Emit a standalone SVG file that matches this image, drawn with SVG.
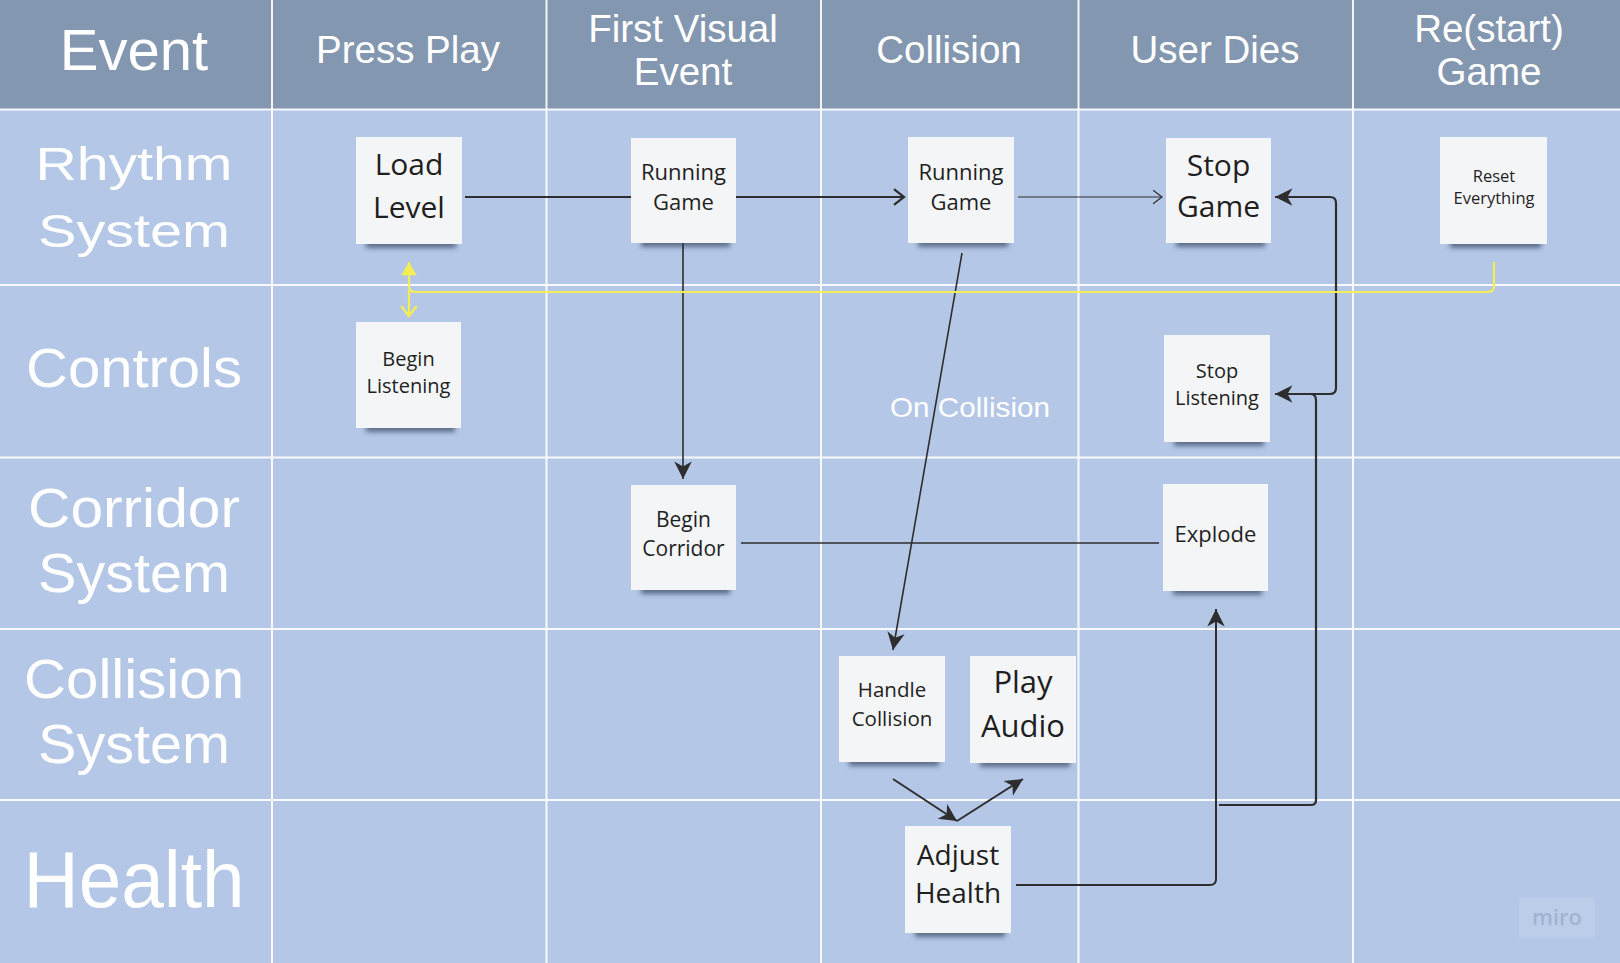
<svg xmlns="http://www.w3.org/2000/svg" width="1620" height="963" viewBox="0 0 1620 963">
<defs>
<style>
.hdr{font-family:"Liberation Sans",Arial,sans-serif;fill:#ffffff;text-anchor:middle}
.row{font-family:"Liberation Sans",Arial,sans-serif;fill:#ffffff;text-anchor:middle}
.nt{font-family:"Open Sans","Noto Sans",sans-serif;fill:#1f1f1f;text-anchor:middle}
.note{fill:#f4f5f7}
.shadow{fill:#24324a;opacity:0.6;filter:url(#blur)}
.grid{stroke:#ffffff;stroke-width:2;opacity:0.9}
.con{fill:none;stroke:#2e2e2e;stroke-linecap:butt}
.yel{fill:none;stroke:#f3ee55;stroke-width:2.2}
</style>
<filter id="blur" x="-20%" y="-100%" width="140%" height="300%"><feGaussianBlur stdDeviation="2.5"/></filter>
<marker id="fill" markerUnits="userSpaceOnUse" markerWidth="20" markerHeight="20" viewBox="-15 -8 16 16" refX="0" refY="0" orient="auto">
<path d="M0,0 L-14,-7 L-10,0 L-14,7 Z" fill="#2e2e2e"/>
</marker>
<marker id="chev" markerUnits="userSpaceOnUse" markerWidth="20" markerHeight="20" viewBox="-14 -9 16 18" refX="0" refY="0" orient="auto">
<path d="M-9,-7 L0,0 L-9,7" fill="none" stroke="#2e2e2e" stroke-width="2"/>
</marker>
<marker id="chevthin" markerUnits="userSpaceOnUse" markerWidth="20" markerHeight="20" viewBox="-14 -9 16 18" refX="0" refY="0" orient="auto">
<path d="M-8,-6 L0,0 L-8,6" fill="none" stroke="#2e2e2e" stroke-width="1.1"/>
</marker>
<marker id="yfill" markerUnits="userSpaceOnUse" markerWidth="20" markerHeight="20" viewBox="-15 -9 16 18" refX="0" refY="0" orient="auto">
<path d="M0,0 L-12,-7 L-12,7 Z" fill="#f3ee55"/>
</marker>
<marker id="ychev" markerUnits="userSpaceOnUse" markerWidth="20" markerHeight="20" viewBox="-14 -9 16 18" refX="0" refY="0" orient="auto">
<path d="M-9,-7 L0,0 L-9,7" fill="none" stroke="#f3ee55" stroke-width="2.2"/>
</marker>
</defs>

<g id="background">
<rect x="0" y="0" width="1620" height="963" fill="#b4c7e7"/>
<rect x="0" y="0" width="1620" height="109.5" fill="#8497b0"/>
</g>

<g id="grid">
<line class="grid" x1="272" y1="0" x2="272" y2="963"/>
<line class="grid" x1="546.5" y1="0" x2="546.5" y2="963"/>
<line class="grid" x1="821" y1="0" x2="821" y2="963"/>
<line class="grid" x1="1078.5" y1="0" x2="1078.5" y2="963"/>
<line class="grid" x1="1353" y1="0" x2="1353" y2="963"/>
<line class="grid" x1="0" y1="109.5" x2="1620" y2="109.5"/>
<line class="grid" x1="0" y1="285" x2="1620" y2="285"/>
<line class="grid" x1="0" y1="457.5" x2="1620" y2="457.5"/>
<line class="grid" x1="0" y1="629" x2="1620" y2="629"/>
<line class="grid" x1="0" y1="800" x2="1620" y2="800"/>
</g>

<g id="headers">
<text class="hdr" x="134" y="70" font-size="58">Event</text>
<text class="hdr" x="408" y="63" font-size="38.5">Press Play</text>
<text class="hdr" x="683" y="42" font-size="38.5">First Visual</text>
<text class="hdr" x="683" y="85" font-size="38.5">Event</text>
<text class="hdr" x="949" y="63" font-size="38.5">Collision</text>
<text class="hdr" x="1215" y="63" font-size="38.5">User Dies</text>
<text class="hdr" x="1489" y="42" font-size="38.5">Re(start)</text>
<text class="hdr" x="1489" y="85" font-size="38.5">Game</text>
</g>

<g id="row-labels">
<text class="row" x="134" y="180" font-size="47" textLength="197" lengthAdjust="spacingAndGlyphs">Rhythm</text>
<text class="row" x="134" y="247" font-size="47" textLength="192" lengthAdjust="spacingAndGlyphs">System</text>
<text class="row" x="134" y="387" font-size="56" textLength="216" lengthAdjust="spacingAndGlyphs">Controls</text>
<text class="row" x="134" y="527" font-size="56" textLength="212" lengthAdjust="spacingAndGlyphs">Corridor</text>
<text class="row" x="134" y="592" font-size="56" textLength="192" lengthAdjust="spacingAndGlyphs">System</text>
<text class="row" x="134" y="698" font-size="56" textLength="220" lengthAdjust="spacingAndGlyphs">Collision</text>
<text class="row" x="134" y="763" font-size="56" textLength="192" lengthAdjust="spacingAndGlyphs">System</text>
<text class="row" x="134" y="907" font-size="79" textLength="221" lengthAdjust="spacingAndGlyphs">Health</text>
</g>

<g id="connectors">
<path class="con" d="M465,197 H904" stroke-width="2" marker-end="url(#chev)"/>
<path class="con" d="M1018,197 H1162" stroke-width="1" marker-end="url(#chevthin)"/>
<path class="con" d="M683,243 V479" stroke-width="1.6" marker-end="url(#fill)"/>
<path class="con" d="M962,253 L893,650" stroke-width="1.6" marker-end="url(#fill)"/>
<path class="con" d="M741,543 H1159" stroke="#3c3c3c" stroke-width="1.3"/>
<path class="con" d="M893,779 L957,821" stroke-width="2" marker-end="url(#fill)"/>
<path class="con" d="M957,821 L1023,779" stroke-width="2" marker-end="url(#fill)"/>
<path class="con" d="M1016,885 H1210 Q1216,885 1216,879 V609" stroke-width="2" marker-end="url(#fill)"/>
<path class="con" d="M1219,805 H1311 Q1316,805 1316,800 V400 Q1316,394 1310,394 H1275" stroke-width="2.2" marker-end="url(#fill)"/>
<path class="con" d="M1275,394 H1330 Q1336,394 1336,388 V203 Q1336,197 1330,197 H1275" stroke-width="2.2" marker-end="url(#fill)"/>
<path class="yel" d="M1494,262 V286 Q1494,292 1488,292 H415 Q409,292 409,286 V262" marker-end="url(#yfill)"/>
<path class="yel" d="M409,290 V316" marker-end="url(#ychev)"/>
<text x="970" y="417" font-family="Liberation Sans, Arial, sans-serif" font-size="28" fill="#ffffff" text-anchor="middle" textLength="160" lengthAdjust="spacingAndGlyphs">On Collision</text>
</g>

<g id="load-level">
<rect class="shadow" x="366" y="238" width="90" height="10"/>
<rect class="note" x="356" y="137" width="106" height="107"/>
<text class="nt" x="409" y="175" font-size="30">Load</text>
<text class="nt" x="409" y="218" font-size="30">Level</text>
</g>

<g id="running-game-1">
<rect class="shadow" x="641" y="237" width="89" height="10"/>
<rect class="note" x="631" y="138" width="105" height="105"/>
<text class="nt" x="683.5" y="180" font-size="22" fill="#2a2a2a">Running</text>
<text class="nt" x="683.5" y="210" font-size="22" fill="#2a2a2a">Game</text>
</g>

<g id="begin-listening">
<rect class="shadow" x="366" y="422" width="89" height="10"/>
<rect class="note" x="356" y="322" width="105" height="106"/>
<text class="nt" x="408.5" y="366" font-size="20" fill="#2a2a2a">Begin</text>
<text class="nt" x="408.5" y="393" font-size="20" fill="#2a2a2a">Listening</text>
</g>

<g id="running-game-2">
<rect class="shadow" x="918" y="237" width="90" height="10"/>
<rect class="note" x="908" y="137" width="106" height="106"/>
<text class="nt" x="961" y="180" font-size="22" fill="#2a2a2a">Running</text>
<text class="nt" x="961" y="210" font-size="22" fill="#2a2a2a">Game</text>
</g>

<g id="stop-game">
<rect class="shadow" x="1176" y="237" width="89" height="10"/>
<rect class="note" x="1166" y="138" width="105" height="105"/>
<text class="nt" x="1218.5" y="176" font-size="30">Stop</text>
<text class="nt" x="1218.5" y="217" font-size="30">Game</text>
</g>

<g id="reset-everything">
<rect class="shadow" x="1450" y="238" width="91" height="10"/>
<rect class="note" x="1440" y="137" width="107" height="107"/>
<text class="nt" x="1494" y="182" font-size="16.5" fill="#2a2a2a">Reset</text>
<text class="nt" x="1494" y="204" font-size="16.5" fill="#2a2a2a">Everything</text>
</g>

<g id="stop-listening">
<rect class="shadow" x="1174" y="436" width="90" height="10"/>
<rect class="note" x="1164" y="335" width="106" height="107"/>
<text class="nt" x="1217" y="378" font-size="20" fill="#2a2a2a">Stop</text>
<text class="nt" x="1217" y="405" font-size="20" fill="#2a2a2a">Listening</text>
</g>

<g id="begin-corridor">
<rect class="shadow" x="641" y="584" width="89" height="10"/>
<rect class="note" x="631" y="485" width="105" height="105"/>
<text class="nt" x="683.5" y="527" font-size="21" fill="#2a2a2a">Begin</text>
<text class="nt" x="683.5" y="556" font-size="21" fill="#2a2a2a">Corridor</text>
</g>

<g id="explode">
<rect class="shadow" x="1173" y="585" width="89" height="10"/>
<rect class="note" x="1163" y="484" width="105" height="107"/>
<text class="nt" x="1215.5" y="542" font-size="22">Explode</text>
</g>

<g id="handle-collision">
<rect class="shadow" x="849" y="756" width="90" height="10"/>
<rect class="note" x="839" y="656" width="106" height="106"/>
<text class="nt" x="892" y="697" font-size="20.5" fill="#2a2a2a">Handle</text>
<text class="nt" x="892" y="726" font-size="20.5" fill="#2a2a2a">Collision</text>
</g>

<g id="play-audio">
<rect class="shadow" x="980" y="757" width="90" height="10"/>
<rect class="note" x="970" y="656" width="106" height="107"/>
<text class="nt" x="1023" y="693" font-size="31">Play</text>
<text class="nt" x="1023" y="737" font-size="31">Audio</text>
</g>

<g id="adjust-health">
<rect class="shadow" x="915" y="927" width="90" height="10"/>
<rect class="note" x="905" y="826" width="106" height="107"/>
<text class="nt" x="958" y="865" font-size="28">Adjust</text>
<text class="nt" x="958" y="903" font-size="28">Health</text>
</g>

<g id="watermark">
<rect x="1519" y="898" width="76" height="40" fill="#bccdea"/>
<text x="1557" y="925" font-family="Open Sans, Noto Sans, sans-serif" font-size="22" font-weight="600" fill="#a3b3cf" text-anchor="middle">miro</text>
</g>
</svg>
